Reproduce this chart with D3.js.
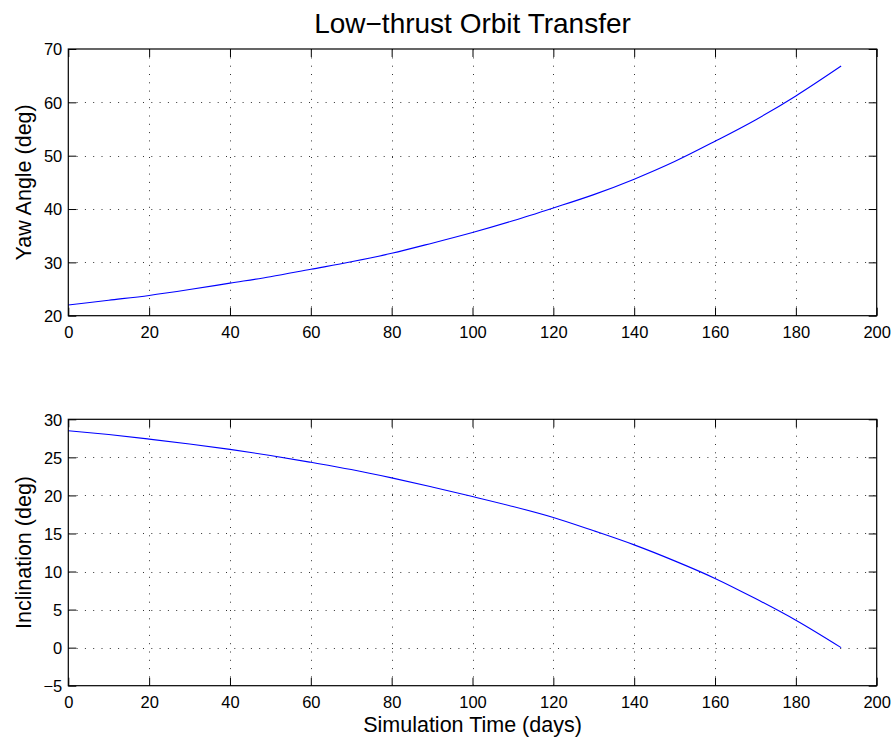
<!DOCTYPE html>
<html>
<head>
<meta charset="utf-8">
<script src="https://cdn.jsdelivr.net/npm/d3@7"></script>
<style>
  html, body { margin: 0; padding: 0; background: #fff; }
  svg { display: block; font-family: "Liberation Sans", Arial, Helvetica, sans-serif; }
</style>
</head>
<body>
<svg id="chart" width="895" height="737"></svg>
<script>
// Simulation time samples (days)
const days = [0, 10, 20, 30, 40, 50, 60, 70, 80, 90, 100, 110, 120, 130, 140, 150, 160, 170, 180, 191.2];
// Thrust yaw angle (deg)
const yawAngle = [22.0, 22.9, 23.8, 24.9, 26.1, 27.3, 28.7, 30.1, 31.7, 33.6, 35.6, 37.8, 40.2, 42.7, 45.6, 48.9, 52.7, 56.7, 61.2, 66.8];
// Orbit inclination (deg)
const inclination = [28.5, 28.0, 27.4, 26.75, 26.05, 25.25, 24.35, 23.4, 22.3, 21.1, 19.85, 18.55, 17.1, 15.35, 13.5, 11.4, 9.1, 6.45, 3.6, 0.0];

const xTicks = [0, 20, 40, 60, 80, 100, 120, 140, 160, 180, 200];
const yawTicks = [20, 30, 40, 50, 60, 70];
const inclTicks = [-5, 0, 5, 10, 15, 20, 25, 30];

const titleText = "Low\u2212thrust Orbit Transfer";
const xLabel = "Simulation Time (days)";
const yawLabel = "Yaw Angle (deg)";
const inclLabel = "Inclination (deg)";

const svg = d3.select("#chart");
const left = 68.3, right = 876.7;
const tickLen = 8;
const fmt = d3.format("");

function panel(yDomain, yTop, yBottom, yTicks, values, yLabelText) {
  const x = d3.scaleLinear().domain([0, 200]).range([left, right]);
  const y = d3.scaleLinear().domain(yDomain).range([yBottom, yTop]);
  const g = svg.append("g");

  // dotted grid
  const grid = g.append("g").attr("stroke", "#333").attr("stroke-width", 1)
    .attr("stroke-dasharray", "1,7.3");
  grid.selectAll("line.gx").data(xTicks.slice(1, -1)).join("line")
    .attr("x1", d => Math.round(x(d)) + 0.5).attr("x2", d => Math.round(x(d)) + 0.5)
    .attr("y1", yBottom).attr("y2", yTop);
  grid.selectAll("line.gy").data(yTicks.slice(1, -1)).join("line")
    .attr("x1", left).attr("x2", right)
    .attr("y1", d => Math.round(y(d)) + 0.5).attr("y2", d => Math.round(y(d)) + 0.5);

  // data line
  const line = d3.line().x((d, i) => x(days[i])).y(d => y(d)).curve(d3.curveMonotoneX);
  g.append("path").datum(values).attr("d", line)
    .attr("fill", "none").attr("stroke", "#0000ff").attr("stroke-width", 1.1);

  // axes with inward ticks on all four sides
  const styleAxis = sel => {
    sel.select(".domain").remove();
    sel.selectAll(".tick line").attr("stroke", "#000");
  };
  const bottom = g.append("g").attr("transform", `translate(0,${yBottom})`)
    .call(d3.axisBottom(x).tickValues(xTicks).tickSizeInner(-tickLen).tickSizeOuter(0).tickFormat(fmt));
  styleAxis(bottom);
  bottom.selectAll(".tick text").attr("y", 22.6).attr("dy", null)
    .attr("font-size", 16.5).attr("fill", "#000");

  const top = g.append("g").attr("transform", `translate(0,${yTop})`)
    .call(d3.axisTop(x).tickValues(xTicks).tickSizeInner(-tickLen).tickSizeOuter(0).tickFormat(""));
  styleAxis(top);

  const leftAx = g.append("g").attr("transform", `translate(${left},0)`)
    .call(d3.axisLeft(y).tickValues(yTicks).tickSizeInner(-tickLen).tickSizeOuter(0).tickFormat(fmt));
  styleAxis(leftAx);
  leftAx.selectAll(".tick text").attr("x", -6).attr("dy", "0.35em")
    .attr("font-size", 16.5).attr("fill", "#000");

  const rightAx = g.append("g").attr("transform", `translate(${right},0)`)
    .call(d3.axisRight(y).tickValues(yTicks).tickSizeInner(-tickLen).tickSizeOuter(0).tickFormat(""));
  styleAxis(rightAx);

  // axes box
  g.append("rect").attr("x", left).attr("y", yTop)
    .attr("width", right - left).attr("height", yBottom - yTop)
    .attr("fill", "none").attr("stroke", "#000").attr("stroke-width", 1.2);

  // y label
  g.append("text")
    .attr("transform", `translate(31,${(yTop + yBottom) / 2}) rotate(-90)`)
    .attr("text-anchor", "middle").attr("font-size", 21.5).text(yLabelText);

  return { x, y };
}

const p1 = panel([20, 70], 49, 315.7, yawTicks, yawAngle, yawLabel);
const p2 = panel([-5, 30], 419.3, 685.7, inclTicks, inclination, inclLabel);

svg.append("text").attr("x", (left + right) / 2).attr("y", 33.3)
  .attr("text-anchor", "middle").attr("font-size", 28).text(titleText);

svg.append("text").attr("x", (left + right) / 2).attr("y", 731.5)
  .attr("text-anchor", "middle").attr("font-size", 21.5).text(xLabel);
</script>
</body>
</html>
